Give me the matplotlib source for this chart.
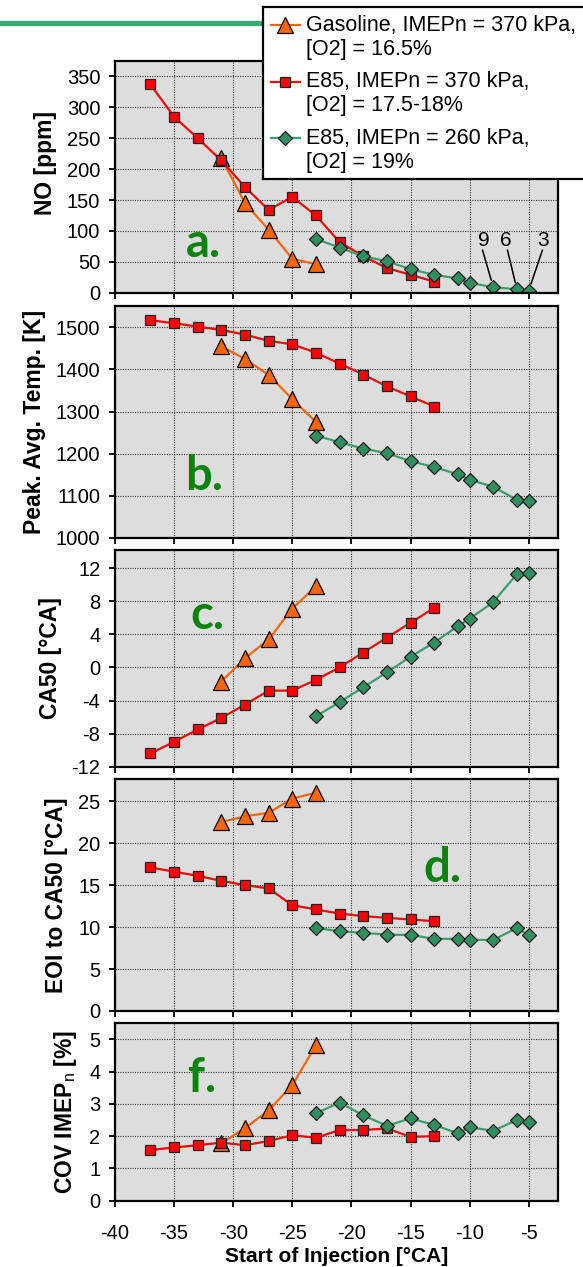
import matplotlib
matplotlib.use('Agg')
import matplotlib.pyplot as plt
from matplotlib.lines import Line2D

plt.rcParams['font.family'] = ['Liberation Sans', 'DejaVu Sans']
plt.rcParams['mathtext.fontset'] = 'custom'
plt.rcParams['mathtext.rm'] = 'Liberation Sans'
plt.rcParams['mathtext.bf'] = 'Liberation Sans:bold'
plt.rcParams['axes.unicode_minus'] = False

# ---------------- data ----------------
soi_gas = [-31, -29, -27, -25, -23]
soi_e85_370 = [-37, -35, -33, -31, -29, -27, -25, -23, -21, -19, -17, -15, -13]
soi_e85_260 = [-23, -21, -19, -17, -15, -13, -11, -10, -8, -6, -5]

no_gas = [218, 145, 102, 55, 46]
no_e85_370 = [337, 285, 250, 214, 171, 134, 155, 125, 82, 59, 40, 29, 18]
no_e85_260 = [87, 73, 59, 51, 38, 29, 23, 16, 9, 5.5, 3.5]

temp_gas = [1455, 1425, 1387, 1330, 1275]
temp_e85_370 = [1517, 1510, 1502, 1494, 1483, 1468, 1460, 1440, 1414, 1388, 1360, 1336, 1312]
temp_e85_260 = [1243, 1227, 1212, 1201, 1182, 1168, 1151, 1138, 1121, 1090, 1088]

ca50_gas = [-1.7, 1.1, 3.4, 7.1, 9.8]
ca50_e85_370 = [-10.4, -9.0, -7.5, -6.1, -4.5, -2.8, -2.8, -1.5, 0.0, 1.8, 3.6, 5.4, 7.2]
ca50_e85_260 = [-5.9, -4.2, -2.4, -0.6, 1.3, 3.0, 5.0, 5.9, 7.9, 11.3, 11.4]

eoi_gas = [22.5, 23.2, 23.6, 25.3, 26.0]
eoi_e85_370 = [17.1, 16.6, 16.1, 15.5, 15.0, 14.6, 12.6, 12.1, 11.6, 11.3, 11.1, 10.9, 10.7]
eoi_e85_260 = [9.9, 9.5, 9.3, 9.1, 9.05, 8.6, 8.6, 8.5, 8.45, 9.9, 9.05]

cov_gas = [1.78, 2.25, 2.8, 3.58, 4.82]
cov_e85_370 = [1.57, 1.65, 1.72, 1.80, 1.72, 1.85, 2.03, 1.95, 2.19, 2.19, 2.24, 1.98, 2.0]
cov_e85_260 = [2.71, 3.04, 2.65, 2.32, 2.55, 2.35, 2.09, 2.27, 2.17, 2.5, 2.43]

legend_labels = ['Gasoline, IMEPn = 370 kPa,\n[O2] = 16.5%',
                 'E85, IMEPn = 370 kPa,\n[O2] = 17.5-18%',
                 'E85, IMEPn = 260 kPa,\n[O2] = 19%']
ylabels = ['NO [ppm]', 'Peak. Avg. Temp. [K]', 'CA50 [°CA]',
           'EOI to CA50 [°CA]', r'COV IMEP$_{\mathrm{n}}$ [%]']
panel_letters = ['a.', 'b.', 'c.', 'd.', 'f.']
xticks = [-40, -35, -30, -25, -20, -15, -10, -5]
ann_labels = ['9', '6', '3']
ann_soi = [-8, -6, -5]

# ---------------- styling ----------------
W, H = 583, 1267
fig = plt.figure(figsize=(W / 100, H / 100), dpi=100)

styles = [
    dict(color='#FF6600', marker='^', ms=11, mfc='#FF6600', mec='black', mew=0.9, lw=1.6),
    dict(color='#FF0000', marker='s', ms=7.5, mfc='#FF0000', mec='#222222', mew=0.9, lw=1.6),
    dict(color='#3A9E6E', marker='D', ms=7.0, mfc='#2F8F5F', mec='#1a1a1a', mew=0.9, lw=1.6),
]

# (top, bottom) pixel extents of panels
extents = [(61, 292.7), (306, 537.7), (550, 766.7), (779.3, 1011), (1023.3, 1200.7)]
ylims = [(0, 375), (1000, 1551), (-12, 14.2), (0, 27.6), (0, 5.5)]
yticks = [list(range(0, 351, 50)), list(range(1000, 1501, 100)), list(range(-12, 13, 4)),
          list(range(0, 26, 5)), list(range(0, 6))]
letter_pos = [(-34.0, 57), (-34.1, 1113), (-33.6, 4.7), (-13.9, 15.4), (-33.8, 3.38)]

series = [
    (no_gas, no_e85_370, no_e85_260),
    (temp_gas, temp_e85_370, temp_e85_260),
    (ca50_gas, ca50_e85_370, ca50_e85_260),
    (eoi_gas, eoi_e85_370, eoi_e85_260),
    (cov_gas, cov_e85_370, cov_e85_260),
]

left_px, width_px = 114.9, 443.4
axes = []
for i, ((top, bot), (yg, yr, yn)) in enumerate(zip(extents, series)):
    ax = fig.add_axes([left_px / W, 1 - bot / H, width_px / W, (bot - top) / H])
    ax.set_facecolor('#DDDDDD')
    ax.set_axisbelow(True)
    ax.grid(True, color='#3a3a3a', linestyle=(0, (1, 1.2)), linewidth=0.8)
    ax.plot(soi_gas, yg, **styles[0])
    ax.plot(soi_e85_370, yr, **styles[1])
    ax.plot(soi_e85_260, yn, **styles[2])
    ax.set_xlim(-40, -2.5)
    ax.set_ylim(*ylims[i])
    ax.set_xticks(xticks)
    ax.set_yticks(yticks[i])
    for s in ax.spines.values():
        s.set_linewidth(1.6)
        s.set_color('black')
    ax.tick_params(axis='both', direction='out', length=4.5, width=1.3,
                   labelsize=14.5, colors='black')
    ax.tick_params(axis='y', pad=6)
    ax.tick_params(axis='x', pad=12)
    if i < 4:
        ax.tick_params(axis='x', labelbottom=False)
    ax.set_ylabel(ylabels[i], fontsize=16.5, fontweight='bold', labelpad=7)
    lx, ly = letter_pos[i]
    ax.text(lx, ly, panel_letters[i], fontsize=34, fontweight='bold',
            family=['Lato', 'DejaVu Sans'], color='#0B820B', ha='left', va='baseline')
    axes.append(ax)

axes[0].yaxis.label.set_y(0.56)
axes[-1].set_xlabel('Start of Injection [°CA]', fontsize=15, fontweight='bold', labelpad=3)

# annotations 9, 6, 3 in panel a
ax0 = axes[0]
ann_text_x = [-8.8, -6.94, -3.79]
ann_line_x = [-8.91, -6.8, -3.84]
for lab, sx, tx, lx in zip(ann_labels, ann_soi, ann_text_x, ann_line_x):
    yv = no_e85_260[soi_e85_260.index(sx)]
    ax0.annotate('', xy=(sx, yv), xytext=(lx, 69),
                 arrowprops=dict(arrowstyle='-', color='black', lw=1.1,
                                 shrinkA=0, shrinkB=5))
    ax0.text(tx, 84, lab, fontsize=15, ha='center', va='center')

# green rule at top
fig.add_artist(Line2D([0, 0.5], [1 - 23.3 / H] * 2, transform=fig.transFigure,
                      color='#3CAA6E', lw=3.6, zorder=0))

# manual legend box (cut off by the right edge, as in the reference)
lg_left, lg_top, lg_bot, lg_right = 262.7, 6.7, 179, float(W)
lax = fig.add_axes([lg_left / W, 1 - lg_bot / H, (lg_right - lg_left) / W, (lg_bot - lg_top) / H])
lax.set_xlim(lg_left, lg_right)
lax.set_ylim(lg_bot, lg_top)
lax.set_facecolor('white')
lax.set_xticks([])
lax.set_yticks([])
for s in lax.spines.values():
    s.set_visible(False)
frame_kw = dict(color='black', lw=1.6, clip_on=False, solid_capstyle='projecting')
lax.plot([lg_left, lg_right + 5], [lg_top, lg_top], **frame_kw)
lax.plot([lg_left, lg_right + 5], [lg_bot, lg_bot], **frame_kw)
lax.plot([lg_left, lg_left], [lg_top, lg_bot], **frame_kw)
line1_y = [25, 81.7, 138.3]
for st, lab, yy in zip(styles, legend_labels, line1_y):
    lax.plot([270.7, 300], [yy, yy], color=st['color'], lw=st['lw'])
    lax.plot([285.3], [yy], linestyle='none', marker=st['marker'], ms=st['ms'],
             mfc=st['mfc'], mec=st['mec'], mew=st['mew'])
    l1, l2 = lab.split('\n')
    lax.text(305.5, yy, l1, fontsize=15.5, va='center', ha='left', clip_on=False)
    lax.text(305.5, yy + 24.3, l2, fontsize=15.5, va='center', ha='left', clip_on=False)

fig.savefig('out.png', dpi=100)
